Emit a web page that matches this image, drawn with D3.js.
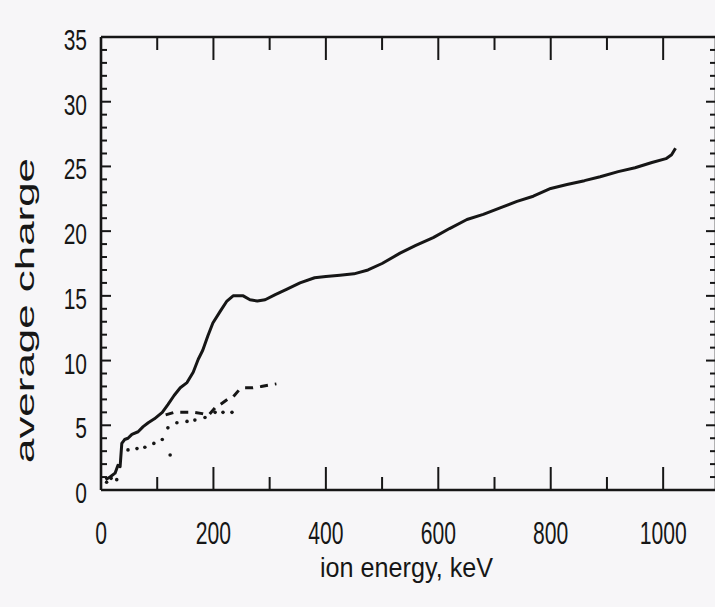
<!DOCTYPE html>
<html><head><meta charset="utf-8">
<script src="https://cdn.jsdelivr.net/npm/d3@7"></script>
<style>html,body{margin:0;padding:0;background:#f7f6f8;}svg{display:block;}</style>
</head><body>
<svg id="chart" width="715" height="607"></svg>
<script>
// ---- data ----
const xTickValues = [0, 200, 400, 600, 800, 1000];
const yTickValues = [0, 5, 10, 15, 20, 25, 30, 35];
const xTitle = "ion energy, keV";
const yTitle = "average charge";

// solid curve: [energy keV, average charge]
const solidEnergy = [8,16,25,30,34,37,42,48,55,66,75,84,95,109,119,130,141,153,164,173,181,190,199,212,224,235,253,265,278,292,310,330,354,380,400,425,450,475,500,532,560,591,620,651,680,710,740,769,800,829,860,888,920,950,980,1005,1015,1022];
const solidCharge = [0.8,1.0,1.3,1.9,1.8,3.6,3.9,4.0,4.3,4.5,4.9,5.2,5.5,6.0,6.6,7.3,7.9,8.3,9.1,10.1,10.8,11.9,12.9,13.8,14.6,15.0,15.0,14.7,14.6,14.7,15.1,15.5,16.0,16.4,16.5,16.6,16.7,17.0,17.5,18.3,18.9,19.5,20.2,20.9,21.3,21.8,22.3,22.7,23.3,23.6,23.9,24.2,24.6,24.9,25.3,25.6,25.9,26.4];

// dashed curve
const dashEnergy = [115,130,150,165,180,192,203,212,225,235,245,255,270,285,298,312];
const dashCharge = [5.8,6.0,6.0,6.0,5.9,5.8,6.35,6.6,7.0,7.2,7.7,7.9,7.9,8.0,8.1,8.2];

// dotted points
const dotEnergy = [10,18,28,48,64,78,94,109,119,123,135,153,167,185,203,217,233];
const dotCharge = [0.6,0.9,0.8,3.1,3.2,3.3,3.6,3.9,4.8,2.7,5.2,5.3,5.4,5.6,6.0,6.0,6.0];

// ---- layout ----
const svg = d3.select("#chart");
const ink = "#161616";
const padL = 101, padR = 716, padT = 37, padB = 490;
const xMaxVal = 1094, yMaxVal = 35;
const x = d3.scaleLinear().domain([0, xMaxVal]).range([padL, padR]);
const y = d3.scaleLinear().domain([0, yMaxVal]).range([padB, padT]);

svg.append("rect").attr("width",715).attr("height",607).attr("fill","#f7f6f8");

const g = svg.append("g");

// frame lines
function frame(x1,y1,x2,y2){
  g.append("line").attr("x1",x1).attr("x2",x2).attr("y1",y1).attr("y2",y2)
    .attr("stroke",ink).attr("stroke-width",2.6);
}
frame(x(0), y(yMaxVal), x(0), y(0));
frame(x(0), y(0), x(xMaxVal), y(0));
frame(x(0), y(yMaxVal), x(xMaxVal), y(yMaxVal));
frame(x(xMaxVal), y(yMaxVal), x(xMaxVal), y(0));

// x ticks (every 100, long at 200s) bottom & top, pointing inward
d3.range(100, 1100, 100).forEach(v => {
  const len = (v % 200 === 0) ? 23 : 13;
  g.append("line").attr("x1",x(v)).attr("x2",x(v)).attr("y1",y(0)).attr("y2",y(0)-len)
    .attr("stroke",ink).attr("stroke-width",2);
  g.append("line").attr("x1",x(v)).attr("x2",x(v)).attr("y1",y(yMaxVal)).attr("y2",y(yMaxVal)+len)
    .attr("stroke",ink).attr("stroke-width",2);
});
// y ticks (every 1, longer at 5s) left & right, pointing inward
d3.range(1, 35, 1).forEach(v => {
  const len = (v % 5 === 0) ? 10 : 6;
  g.append("line").attr("x1",x(0)).attr("x2",x(0)+len).attr("y1",y(v)).attr("y2",y(v))
    .attr("stroke",ink).attr("stroke-width",2);
  g.append("line").attr("x1",x(xMaxVal)).attr("x2",x(xMaxVal)-len).attr("y1",y(v)).attr("y2",y(v))
    .attr("stroke",ink).attr("stroke-width",2);
});

// tick labels (condensed look via horizontal scale)
const fontFam = "'Liberation Sans', Arial, sans-serif";
xTickValues.forEach(v => {
  g.append("text").attr("transform",`translate(${x(v)},544) scale(0.66,1)`)
    .attr("text-anchor","middle").attr("font-family",fontFam).attr("font-size",32)
    .attr("fill",ink).text(v);
});
yTickValues.forEach(v => {
  g.append("text").attr("transform",`translate(87,${y(v)+13}) scale(0.7,1)`)
    .attr("text-anchor","end").attr("font-family",fontFam).attr("font-size",30)
    .attr("fill",ink).text(v);
});

// axis titles
g.append("text").attr("x",320).attr("y",577).attr("font-family",fontFam).attr("font-size",28)
  .attr("fill",ink).attr("textLength",173).attr("lengthAdjust","spacingAndGlyphs").text(xTitle);
g.append("text").attr("transform","translate(34,463) rotate(-90)").attr("font-family",fontFam)
  .attr("font-size",25).attr("fill",ink).attr("textLength",305).attr("lengthAdjust","spacingAndGlyphs")
  .text(yTitle);

// series
const line = d3.line().x(d => x(d[0])).y(d => y(d[1])).curve(d3.curveLinear);
const solid = solidEnergy.map((e,i) => [e, solidCharge[i]]);
const dashed = dashEnergy.map((e,i) => [e, dashCharge[i]]);
const dots = dotEnergy.map((e,i) => [e, dotCharge[i]]);

g.append("path").datum(solid).attr("d",line).attr("fill","none")
  .attr("stroke",ink).attr("stroke-width",3).attr("stroke-linejoin","round");
g.append("path").datum(dashed).attr("d",line).attr("fill","none")
  .attr("stroke",ink).attr("stroke-width",3).attr("stroke-dasharray","8,7");
g.selectAll("circle.dot").data(dots).enter().append("circle").attr("class","dot")
  .attr("cx",d => x(d[0])).attr("cy",d => y(d[1])).attr("r",1.8).attr("fill",ink);
</script>
</body></html>
